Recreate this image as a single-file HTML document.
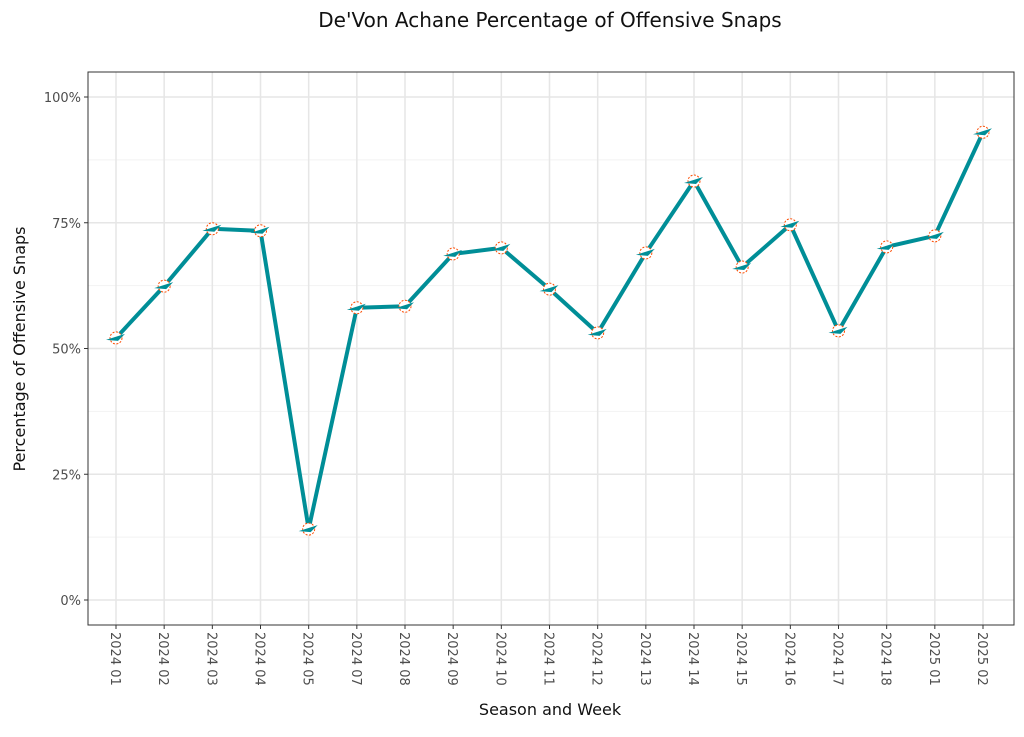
<!DOCTYPE html>
<html><head><meta charset="utf-8"><style>
body{margin:0;background:#fff;font-family:"Liberation Sans","DejaVu Sans",sans-serif}
svg text{font-family:"DejaVu Sans","Liberation Sans",sans-serif}
</style></head><body>
<svg id="c" width="1024" height="732" xmlns="http://www.w3.org/2000/svg">
<text x="550" y="27" text-anchor="middle" font-size="20" fill="#111">De'Von Achane Percentage of Offensive Snaps</text>
<text x="550" y="715" text-anchor="middle" font-size="16" fill="#111">Season and Week</text>
<text transform="translate(25,349) rotate(-90)" text-anchor="middle" font-size="16" fill="#111">Percentage of Offensive Snaps</text>
<g id="grid"></g><g id="marks"></g>
<rect x="88" y="72" width="926" height="553" fill="none" stroke="#333" stroke-width="1"/>
</svg>
<script>
const categories=["2024 01","2024 02","2024 03","2024 04","2024 05","2024 07","2024 08","2024 09","2024 10","2024 11","2024 12","2024 13","2024 14","2024 15","2024 16","2024 17","2024 18","2025 01","2025 02"];
const snapPct=[52.1,62.4,73.8,73.4,14.1,58.1,58.4,68.8,70.0,61.8,53.1,69.0,83.3,66.2,74.6,53.5,70.2,72.4,93.0];
const yTicks=[0,25,50,75,100];
const yTickLabels=["0%","25%","50%","75%","100%"];
const NS="http://www.w3.org/2000/svg";
const x=i=>116+i*(983-116)/(categories.length-1);
const y=v=>600-v*5.03;
function mk(t,a,p){const e=document.createElementNS(NS,t);for(const k in a)e.setAttribute(k,a[k]);p.appendChild(e);return e;}
const g=document.getElementById('grid'),m=document.getElementById('marks');
for(let v=12.5;v<100;v+=25){const l=mk('line',{x1:88,x2:1014,y1:y(v),y2:y(v),stroke:'#f2f2f2','stroke-width':1},g);

}
yTicks.forEach((v,i)=>{const l=mk('line',{x1:88,x2:1014,y1:y(v),y2:y(v),stroke:'#e6e6e6','stroke-width':1.5},g);


mk('line',{x1:84,x2:88,y1:y(v),y2:y(v),stroke:'#333'},g);
const t=mk('text',{x:81,y:y(v)+5,'text-anchor':'end','font-size':13,fill:'#4d4d4d'},g);t.textContent=yTickLabels[i];

});
categories.forEach((c,i)=>{const l=mk('line',{x1:x(i),x2:x(i),y1:72,y2:625,stroke:'#e6e6e6','stroke-width':1.5},g);


mk('line',{x1:x(i),x2:x(i),y1:625,y2:629,stroke:'#333'},g);
const t=mk('text',{transform:`translate(${x(i)-5},632) rotate(90)`,'font-size':13,fill:'#4d4d4d'},g);t.textContent=c;

});
const ln=mk('polyline',{points:snapPct.map((v,i)=>x(i)+','+y(v)).join(' '),fill:'none',stroke:'#008e97','stroke-width':4,'stroke-linejoin':'round'},m);


snapPct.forEach((v,i)=>{const c=mk('circle',{cx:x(i),cy:y(v),r:6,fill:'#fff',stroke:'#fc4c02','stroke-width':1,'stroke-dasharray':'2 1.5'},m);


const f=mk('path',{d:`M${x(i)-10},${y(v)+2} L${x(i)+9},${y(v)-4} L${x(i)+2},${y(v)+3} Z`,fill:'#008e97'},m);

});
</script>
</body></html>
